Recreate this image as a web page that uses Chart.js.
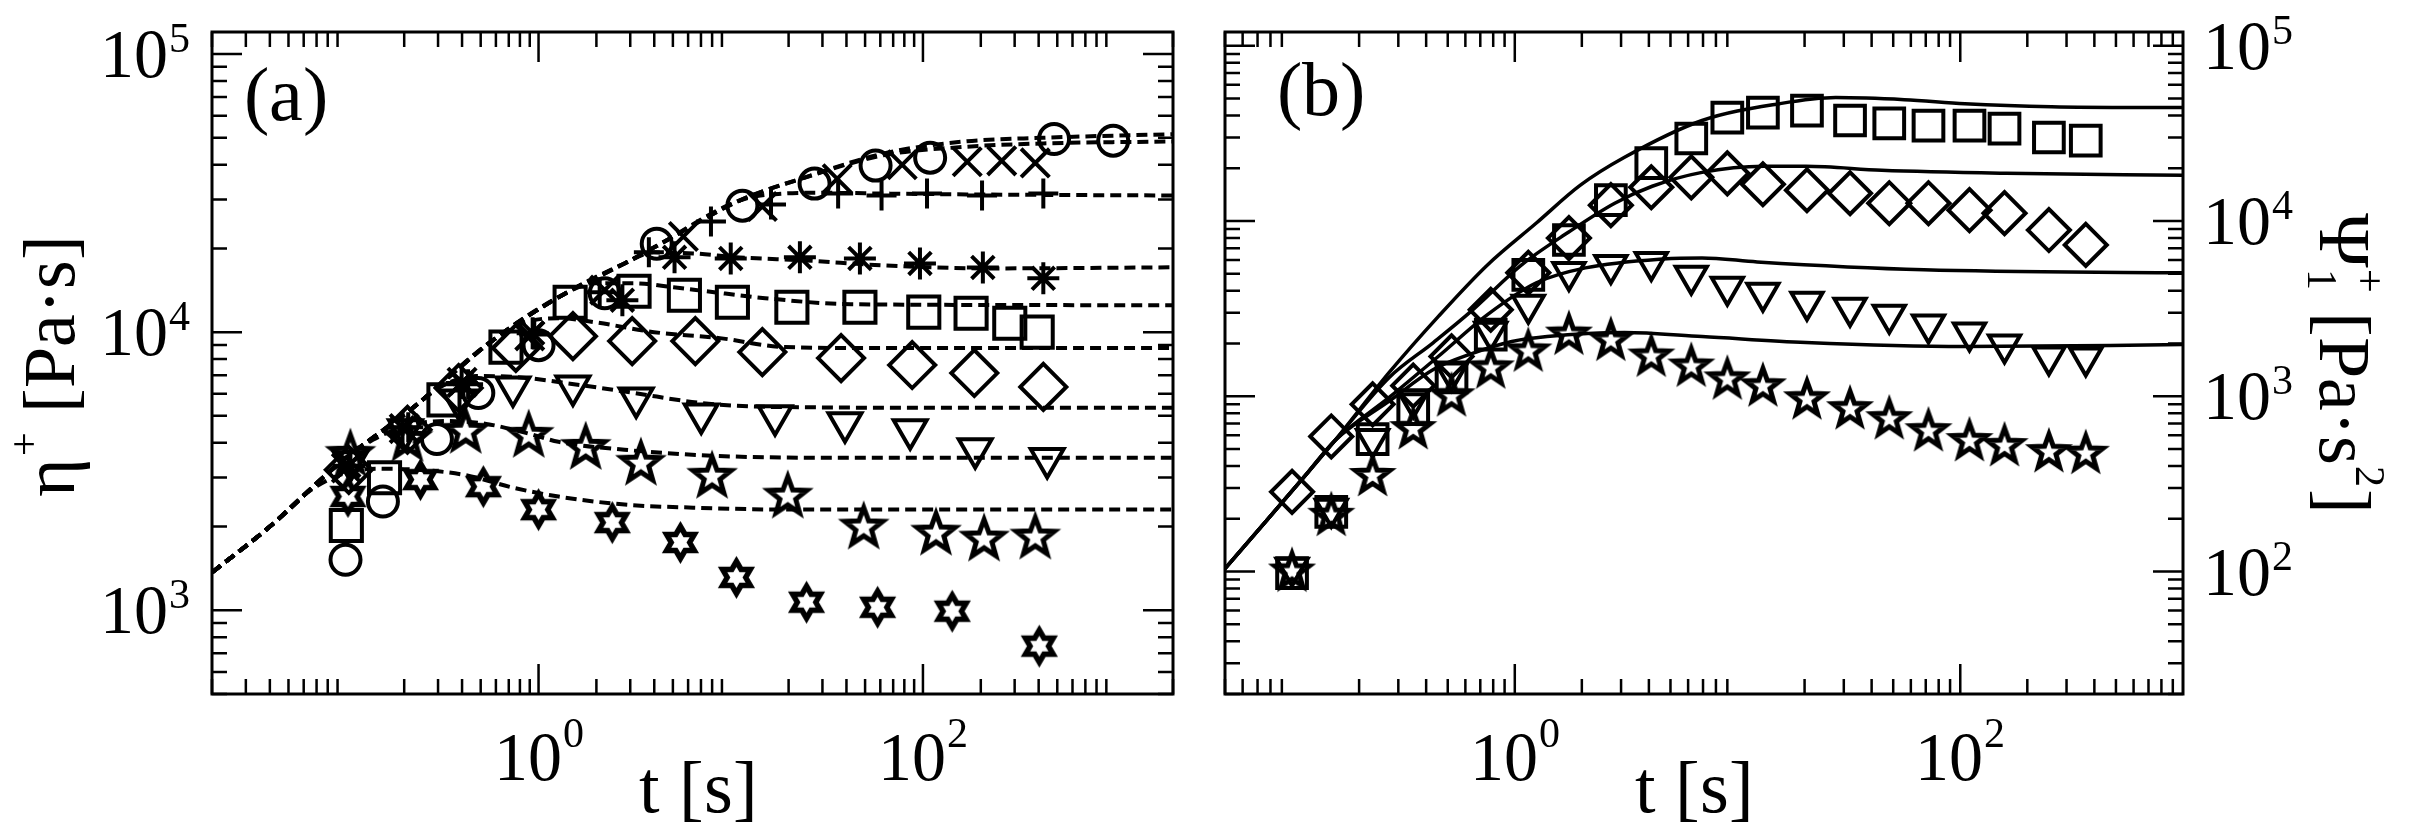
<!DOCTYPE html>
<html>
<head>
<meta charset="utf-8">
<script src="https://cdn.jsdelivr.net/npm/chart.js@4.4.1/dist/chart.umd.min.js"></script>
<style>
  @font-face {
    font-family: 'RefSerif';
    src: local('Liberation Serif'), local('LiberationSerif'), local('LiberationSerif-Regular'), local('Liberation Serif Regular');
  }
  html, body { margin: 0; padding: 0; background: #fff; }
  #wrap { position: relative; width: 2415px; height: 829px; overflow: hidden; background: #fff; }
  canvas { position: absolute; top: 0; }
  #cA { left: 0; }
  #cB { left: 1200px; }
  #warm { position: absolute; left: -9999px; top: 0; font: 40px 'RefSerif', 'Liberation Serif'; }
</style>
</head>
<body>
<div id="wrap">
  <canvas id="cA" width="1200" height="829"></canvas>
  <canvas id="cB" width="1215" height="829"></canvas>
</div>
<div id="warm">10 t [s] η Ψ ·</div>
<script>
// ---------- panel (a): eta+ [Pa s] vs t [s] ----------
const tA_circ  = [0.099, 0.155, 0.296, 0.486, 1.0, 2.21, 4.12, 11.5, 27.3, 56.7, 109, 481, 977];
const etaA_circ = [1520, 2460, 4130, 6040, 8980, 13800, 20800, 28500, 34200, 39700, 42400, 49500, 48800];

const tA_cross  = [0.10, 0.2, 0.4, 0.9, 2.21, 5.67, 14.6, 35.8, 78, 170, 257, 384];
const etaA_cross = [3250, 4500, 6600, 9700, 14160, 22080, 28300, 35600, 40000, 41000, 41300, 40600];

const tA_plus  = [0.105, 0.21, 0.43, 0.95, 2.08, 3.75, 7.89, 16.2, 36.2, 60.9, 105, 203, 423];
const etaA_plus = [3300, 4550, 6500, 9800, 13900, 19360, 25000, 28800, 31500, 31000, 31500, 31000, 31500];

const tA_ast  = [0.103, 0.196, 0.398, 0.932, 2.73, 5.10, 10.0, 22.9, 47.0, 96.5, 205, 423];
const etaA_ast = [3311, 4529, 6565, 9917, 13030, 18580, 18410, 18580, 18410, 17660, 17090, 15620];

const tA_sq  = [0.1, 0.158, 0.322, 0.677, 1.46, 3.14, 5.74, 10.2, 20.8, 47.0, 101, 178, 283, 393];
const etaA_sq = [2018, 2997, 5706, 8830, 12810, 14030, 13580, 12810, 12290, 12290, 11800, 11700, 10770, 10000];

const tA_dia  = [0.103, 0.208, 0.384, 0.762, 1.51, 3.07, 6.54, 14.6, 37.5, 87.9, 185, 423];
const etaA_dia = [3199, 4456, 6300, 8768, 9675, 9285, 9285, 8478, 8067, 7616, 7128, 6353];

const tA_tri  = [0.105, 0.203, 0.384, 0.736, 1.51, 3.22, 7.02, 17.0, 39.3, 85.8, 187, 443];
const etaA_tri = [3420, 4456, 5706, 6353, 6403, 5796, 5077, 5000, 4720, 4456, 3810, 3510];

const tA_star5  = [0.105, 0.208, 0.418, 0.889, 1.76, 3.41, 8.0, 19.8, 49.2, 117, 208, 384];
const etaA_star5 = [3624, 4101, 4383, 4240, 3837, 3365, 3022, 2563, 1984, 1887, 1796, 1826];

const tA_star6  = [0.102, 0.243, 0.516, 1.0, 2.42, 5.47, 10.7, 24.8, 58.1, 142, 403];
const etaA_star6 = [2565, 2950, 2783, 2300, 2067, 1753, 1313, 1069, 1025, 992, 743];

// model curves (dashed), panel (a)
const tFitA_env = [0.02, 0.04, 0.09, 0.215, 0.58, 1.27, 2.8, 4.0, 11.1, 24.3, 62, 160, 423, 2000];
const fitA_circ  = [1368, 2000, 3334, 5250, 9362, 13350, 17660, 20180, 29720, 35970, 43840, 48400, 50000, 51500];
const fitA_cross = [1368, 2000, 3334, 5250, 9362, 13350, 17660, 20180, 29720, 35970, 43200, 46300, 47700, 48500];
const tFitA_plus = [0.02, 0.04, 0.09, 0.215, 0.58, 1.27, 2.8, 4.0, 11.1, 18.5, 29.6, 67.7, 221, 2000];
const fitA_plus  = [1368, 2000, 3334, 5250, 9362, 13350, 17660, 20180, 29720, 31480, 31700, 31480, 31240, 31000];
const tFitA_ast  = [0.02, 0.04, 0.09, 0.215, 0.58, 1.27, 2.8, 3.98, 6.38, 11.1, 24.3, 62.3, 221, 2000];
const fitA_ast   = [1368, 2000, 3334, 5250, 9362, 13350, 17660, 19360, 19190, 18570, 18110, 17380, 16950, 17100];
const tFitA_sq   = [0.02, 0.04, 0.09, 0.215, 0.58, 1.27, 1.96, 3.14, 5.04, 7.45, 15.1, 42.2, 2000];
const fitA_sq    = [1368, 2000, 3334, 5250, 9362, 13350, 14990, 14990, 14490, 14030, 13250, 12600, 12500];
const tFitA_dia  = [0.02, 0.04, 0.09, 0.215, 0.58, 0.858, 1.297, 1.96, 3.98, 8.78, 19.1, 62.3, 2000];
const fitA_dia   = [1368, 2000, 3334, 5250, 9362, 10860, 11220, 10860, 10000, 9517, 8836, 8765, 8765];
const tFitA_tri  = [0.02, 0.04, 0.09, 0.215, 0.314, 0.475, 0.762, 1.494, 3.14, 6.93, 16.4, 221, 2000];
const fitA_tri   = [1368, 2000, 3334, 5250, 6397, 6950, 6898, 6515, 6044, 5568, 5386, 5343, 5343];
const tFitA_star5 = [0.02, 0.04, 0.09, 0.1375, 0.208, 0.333, 0.535, 0.858, 1.27, 2.8, 8.0, 32.2, 2000];
const fitA_star5  = [1368, 2000, 3334, 4101, 4603, 4797, 4677, 4345, 4035, 3777, 3595, 3534, 3534];
const tFitA_star6 = [0.02, 0.04, 0.0638, 0.0966, 0.146, 0.234, 0.408, 0.736, 1.27, 2.8, 6.38, 20.7, 2000];
const fitA_star6  = [1368, 2000, 2673, 3098, 3228, 3201, 3071, 2760, 2563, 2399, 2339, 2301, 2301];

// ---------- panel (b): Psi1+ [Pa s^2] vs t [s] ----------
const tB = [0.1, 0.15, 0.23, 0.35, 0.52, 0.78, 1.15, 1.75, 2.7, 4.1, 6.2, 9.0, 13, 20.5, 32, 48, 72, 110, 158, 250, 366];
const psiB_sq   = [98, 219, 570, 844, 1282, 2249, 4932, 7798, 13160, 21400, 29600, 39000, 41600, 42700, 37500, 36100, 35100, 35100, 33700, 30000, 28800];
const psiB_dia  = [285, 590, 900, 1150, 1690, 3120, 5070, 8000, 12330, 15600, 17780, 18740, 16230, 15000, 14420, 12650, 12650, 11550, 11100, 8890, 7310];
const psiB_tri  = [105, 228, 570, 962, 1368, 2338, 3332, 5128, 5623, 5848, 4875, 4218, 3899, 3467, 3206, 2925, 2566, 2311, 1974, 1687, 1666];
const psiB_star = [100, 208, 351, 650, 1000, 1443, 1802, 2250, 2080, 1687, 1479, 1249, 1140, 962, 844, 740, 632, 555, 520, 480, 470];

// model curves (solid), panel (b)
const tFitB_sq   = [0.05, 0.0768, 0.1153, 0.1563, 0.273, 0.453, 0.754, 1.25, 1.97, 3.11, 6.93, 15.5, 27.6, 56.1, 105, 257, 1000];
const fitB_sq    = [104, 195, 356, 562, 1368, 2850, 5623, 9750, 16030, 23120, 37500, 46800, 50670, 49340, 46800, 44980, 44430];
const tFitB_dia  = [0.05, 0.0768, 0.1153, 0.1563, 0.273, 0.431, 0.634, 1.073, 1.747, 2.81, 4.14, 6.93, 13.15, 20.3, 44.4, 161, 1000];
const fitB_dia   = [104, 195, 356, 562, 1282, 2027, 3041, 5623, 8660, 12650, 15810, 18970, 20540, 20540, 19500, 18740, 18250];
const tFitB_tri  = [0.05, 0.0768, 0.1153, 0.1563, 0.273, 0.453, 0.754, 1.25, 2.075, 4.63, 6.93, 12.25, 68.7, 1000];
const fitB_tri   = [104, 195, 356, 562, 986, 1687, 2925, 4446, 5408, 6081, 6166, 5848, 5272, 5070];
const tFitB_star = [0.05, 0.0768, 0.1153, 0.1563, 0.273, 0.431, 0.627, 0.97, 1.397, 3.11, 6.93, 20.3, 105, 1000];
const fitB_star  = [104, 195, 356, 562, 938, 1422, 1734, 2054, 2192, 2311, 2192, 2027, 1924, 1973];

// tick labels (exponents of ten)
const xLabelExpA = [0, 2];
const yLabelExpA = [3, 4, 5];
const xLabelExpB = [0, 2];
const yLabelExpB = [2, 3, 4, 5];

const SERIF = '"RefSerif", "Liberation Serif", "Times New Roman", serif';
const MAJOR = 30, MINOR = 15;

function pts(ts, vs) { return ts.map(function (t, i) { return { x: t, y: vs[i] }; }); }

// outlined star glyphs used as point styles
function starCanvas(n, rOut, rIn, lw) {
  const size = Math.ceil(2 * (rOut + lw * 3));
  const c = document.createElement('canvas');
  c.width = size; c.height = size;
  const g = c.getContext('2d');
  g.translate(size / 2, size / 2);
  g.beginPath();
  for (let i = 0; i < 2 * n; i++) {
    const r = i % 2 ? rIn : rOut;
    const a = -Math.PI / 2 + i * Math.PI / n;
    g.lineTo(r * Math.cos(a), r * Math.sin(a));
  }
  g.closePath();
  g.lineJoin = 'miter';
  g.miterLimit = 10;
  g.lineWidth = lw;
  g.strokeStyle = '#000';
  g.stroke();
  return c;
}

function marks(ts, vs, style, r, rot) {
  return {
    data: pts(ts, vs), showLine: false,
    pointStyle: style, pointRadius: r, pointRotation: rot || 0,
    pointBorderWidth: 4, pointBorderColor: '#000',
    pointBackgroundColor: 'rgba(0,0,0,0)'
  };
}

function curve(ts, vs, dashed, w) {
  return {
    data: pts(ts, vs), showLine: true, fill: false,
    borderColor: '#000', borderWidth: w, borderDash: dashed ? [11, 6] : [],
    pointRadius: 0, cubicInterpolationMode: 'monotone'
  };
}

function tickList(min, max, skipOdd) {
  const out = [];
  for (let k = Math.floor(Math.log10(min)) - 1; k <= Math.ceil(Math.log10(max)); k++) {
    for (let m = 1; m <= 9; m++) {
      const v = m * Math.pow(10, k);
      if (v < min * 0.999 || v > max * 1.001) continue;
      if (m === 1 && skipOdd && Math.abs(k) % 2 === 1) continue;
      out.push({ v: v, major: m === 1 });
    }
  }
  return out;
}

function powLabel(ctx, exp, x, base, align, raise) {
  ctx.font = '68px ' + SERIF;
  const w1 = ctx.measureText('10').width;
  ctx.font = '42px ' + SERIF;
  const w2 = ctx.measureText(String(exp)).width;
  const tot = w1 + w2 + 1;
  const x0 = align === 'center' ? x - tot / 2 : (align === 'right' ? x - tot : x);
  ctx.textAlign = 'left';
  ctx.textBaseline = 'alphabetic';
  ctx.font = '68px ' + SERIF;
  ctx.fillText('10', x0, base);
  ctx.font = '42px ' + SERIF;
  ctx.fillText(String(exp), x0 + w1 + 1, base - raise);
}

// frame, inward ticks on all four sides, tick labels
function axisPlugin(cfg) {
  return {
    id: 'axisDeco',
    afterDraw: function (chart) {
      const ctx = chart.ctx, a = chart.chartArea;
      const xs = chart.scales.x, ys = chart.scales.y;
      ctx.save();
      ctx.strokeStyle = '#000';
      ctx.fillStyle = '#000';
      ctx.lineWidth = 2.5;
      ctx.beginPath();
      tickList(xs.min, xs.max, true).forEach(function (tk) {
        const px = xs.getPixelForValue(tk.v);
        const len = tk.major ? MAJOR : MINOR;
        ctx.moveTo(px, a.bottom); ctx.lineTo(px, a.bottom - len);
        ctx.moveTo(px, a.top); ctx.lineTo(px, a.top + len);
      });
      tickList(ys.min, ys.max, false).forEach(function (tk) {
        const py = ys.getPixelForValue(tk.v);
        const len = tk.major ? MAJOR : MINOR;
        ctx.moveTo(a.left, py); ctx.lineTo(a.left + len, py);
        ctx.moveTo(a.right, py); ctx.lineTo(a.right - len, py);
      });
      ctx.stroke();
      ctx.lineWidth = 3;
      ctx.strokeRect(a.left, a.top, a.right - a.left, a.bottom - a.top);

      cfg.xExp.forEach(function (e) {
        powLabel(ctx, e, xs.getPixelForValue(Math.pow(10, e)), 780, 'center', 33);
      });
      cfg.yExp.forEach(function (e) {
        const py = ys.getPixelForValue(Math.pow(10, e));
        if (cfg.ySide === 'left') powLabel(ctx, e, a.left - 22, py + 23, 'right', 25);
        else powLabel(ctx, e, a.right + 20, py + 23, 'left', 25);
      });

      ctx.textAlign = 'left';
      ctx.textBaseline = 'alphabetic';
      ctx.font = '76px ' + SERIF;
      ctx.fillText(cfg.panel, a.left + cfg.panelDx, cfg.panelBase);

      ctx.font = '74px ' + SERIF;
      ctx.textAlign = 'center';
      ctx.fillText('t [s]', cfg.xTitleX, 812);
      ctx.textAlign = 'left';
      cfg.yTitle(ctx);
      ctx.restore();
    }
  };
}

function baseOptions(pad, xMin, xMax, yMin, yMax) {
  return {
    responsive: false, animation: false, devicePixelRatio: 1, events: [],
    layout: { padding: pad },
    plugins: { legend: { display: false }, tooltip: { enabled: false } },
    scales: {
      x: { type: 'logarithmic', min: xMin, max: xMax, display: false },
      y: { type: 'logarithmic', min: yMin, max: yMax, display: false }
    }
  };
}

function drawCharts() {
  const star5A = starCanvas(5, 20, 8.3, 5);
  const star6A = starCanvas(6, 16, 9.24, 5.5);
  const star5B = starCanvas(5, 18, 7.4, 5);

  new Chart(document.getElementById('cA'), {
    type: 'scatter',
    data: {
      datasets: [
        curve(tFitA_env, fitA_circ, true, 4),
        curve(tFitA_env, fitA_cross, true, 4),
        curve(tFitA_plus, fitA_plus, true, 4),
        curve(tFitA_ast, fitA_ast, true, 4),
        curve(tFitA_sq, fitA_sq, true, 4),
        curve(tFitA_dia, fitA_dia, true, 4),
        curve(tFitA_tri, fitA_tri, true, 4),
        curve(tFitA_star5, fitA_star5, true, 4),
        curve(tFitA_star6, fitA_star6, true, 4),
        marks(tA_circ, etaA_circ, 'circle', 15),
        marks(tA_cross, etaA_cross, 'crossRot', 20),
        marks(tA_plus, etaA_plus, 'cross', 15),
        marks(tA_ast, etaA_ast, 'star', 16),
        marks(tA_sq, etaA_sq, 'rect', 22),
        marks(tA_dia, etaA_dia, 'rectRot', 23),
        marks(tA_tri, etaA_tri, 'triangle', 19, 180),
        marks(tA_star5, etaA_star5, star5A, 10),
        marks(tA_star6, etaA_star6, star6A, 10)
      ]
    },
    options: baseOptions({ left: 212, right: 13, top: 32, bottom: 135 }, 0.02, 2000, 500, 1.2e5),
    plugins: [axisPlugin({
      xExp: xLabelExpA, yExp: yLabelExpA, ySide: 'left',
      panel: '(a)', panelDx: 32, panelBase: 120, xTitleX: 698,
      yTitle: function (ctx) {
        ctx.save();
        ctx.translate(74, 497);
        ctx.rotate(-Math.PI / 2);
        ctx.font = '74px ' + SERIF;
        ctx.fillText('η', 0, 0);
        let x = ctx.measureText('η').width + 2;
        ctx.font = '42px ' + SERIF;
        ctx.fillText('+', x, -36);
        x += ctx.measureText('+').width;
        ctx.font = '74px ' + SERIF;
        ctx.fillText(' [Pa·s]', x, 0);
        ctx.restore();
      }
    })]
  });

  new Chart(document.getElementById('cB'), {
    type: 'scatter',
    data: {
      datasets: [
        curve(tFitB_sq, fitB_sq, false, 3.5),
        curve(tFitB_dia, fitB_dia, false, 3.5),
        curve(tFitB_tri, fitB_tri, false, 3.5),
        curve(tFitB_star, fitB_star, false, 3.5),
        marks(tB, psiB_sq, 'rect', 21),
        marks(tB, psiB_dia, 'rectRot', 21),
        marks(tB, psiB_tri, 'triangle', 18, 180),
        marks(tB, psiB_star, star5B, 10)
      ]
    },
    options: baseOptions({ left: 7, right: 232, top: 32, bottom: 135 }, 0.05, 1000, 20, 1.2e5),
    plugins: [axisPlugin({
      xExp: xLabelExpB, yExp: yLabelExpB, ySide: 'right',
      panel: '(b)', panelDx: 52, panelBase: 115, xTitleX: 494,
      yTitle: function (ctx) {
        ctx.save();
        ctx.translate(1120, 213);
        ctx.rotate(Math.PI / 2);
        ctx.font = '74px ' + SERIF;
        ctx.fillText('Ψ', 0, 0);
        let x = ctx.measureText('Ψ').width + 1;
        ctx.font = '42px ' + SERIF;
        ctx.fillText('1', x, 12);
        ctx.fillText('+', x, -36);
        x += Math.max(ctx.measureText('1').width, ctx.measureText('+').width);
        ctx.font = '74px ' + SERIF;
        ctx.fillText(' [Pa·s', x, 0);
        x += ctx.measureText(' [Pa·s').width + 1;
        ctx.font = '42px ' + SERIF;
        ctx.fillText('2', x, -36);
        x += ctx.measureText('2').width + 2;
        ctx.font = '74px ' + SERIF;
        ctx.fillText(']', x, 0);
        ctx.restore();
      }
    })]
  });
}

Promise.all([
  document.fonts.load('68px "RefSerif"', '10ηΨ'),
  document.fonts.load('68px "Liberation Serif"', '10ηΨ')
]).catch(function () {}).then(drawCharts);
</script>
</body>
</html>
